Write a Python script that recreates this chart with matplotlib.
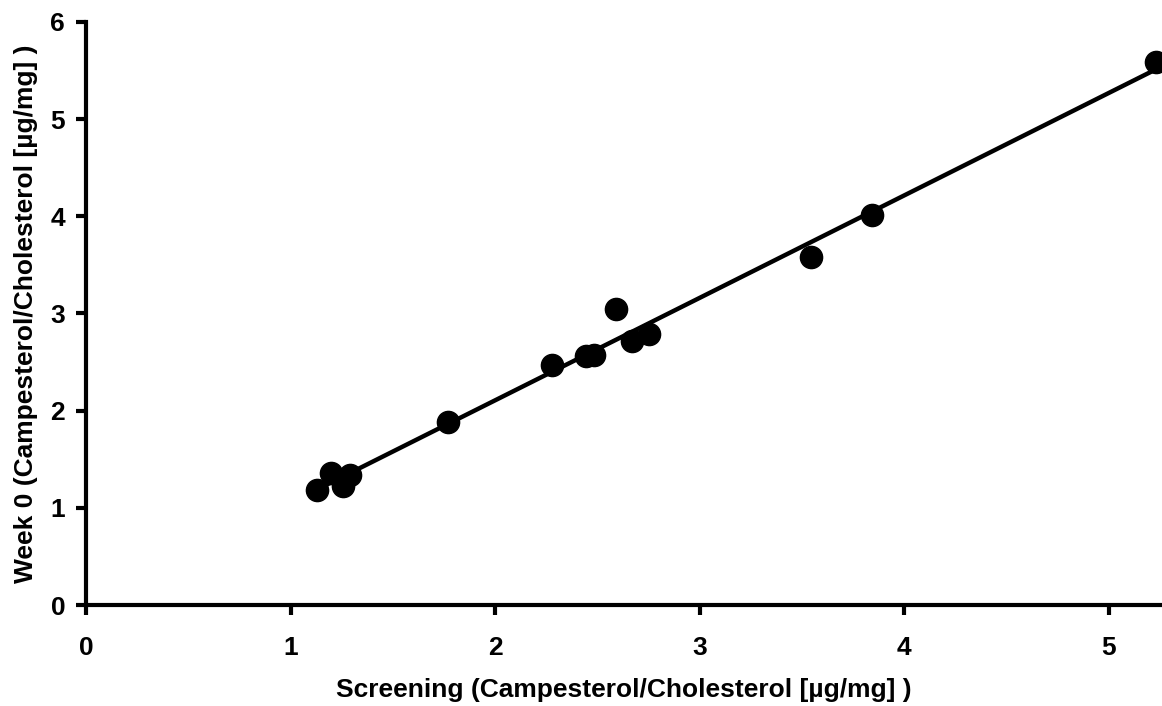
import numpy as np
import matplotlib
import matplotlib.pyplot as plt

matplotlib.rcParams['font.family'] = ['Liberation Sans', 'DejaVu Sans']
matplotlib.rcParams['font.weight'] = 'bold'

# 筛查期与第0周的菜油甾醇/胆固醇比值
screening = [1.13, 1.20, 1.255, 1.29, 1.77, 2.28, 2.445, 2.485, 2.59, 2.67, 2.75, 3.545, 3.84, 5.23]
week0 = [1.18, 1.36, 1.22, 1.34, 1.88, 2.47, 2.56, 2.57, 3.05, 2.72, 2.79, 3.58, 4.01, 5.59]

xs = np.array(screening)
ys = np.array(week0)
slope, intercept = np.polyfit(xs, ys, 1)

fig = plt.figure(figsize=(11.62, 7.06), dpi=100)
ax = fig.add_axes([0.074, 0.143, 0.926, 0.826])

# 回归线
lx = np.array([xs.min(), xs.max()])
ax.plot(lx, slope * lx + intercept, color='black', linewidth=3.2, solid_capstyle='butt', zorder=2)
# 数据点
ax.plot(xs, ys, 'o', color='black', markersize=16, clip_on=False, zorder=3)

ax.set_xlim(0, 5.26)
ax.set_ylim(0, 6)
ax.set_xticks([0, 1, 2, 3, 4, 5])
ax.set_yticks([0, 1, 2, 3, 4, 5, 6])

for side in ['top', 'right']:
    ax.spines[side].set_visible(False)
for side in ['left', 'bottom']:
    ax.spines[side].set_linewidth(3)
ax.tick_params(direction='out', length=7, width=3, labelsize=19)
ax.tick_params(axis='x', pad=15)
ax.tick_params(axis='y', pad=8)

ax.set_xlabel('Screening (Campesterol/Cholesterol [µg/mg] )', fontsize=19, fontweight='bold', labelpad=13)
ax.set_ylabel('Week 0 (Campesterol/Cholesterol [µg/mg] )', fontsize=19, fontweight='bold', labelpad=9)

fig.savefig('out.png', dpi=100)
